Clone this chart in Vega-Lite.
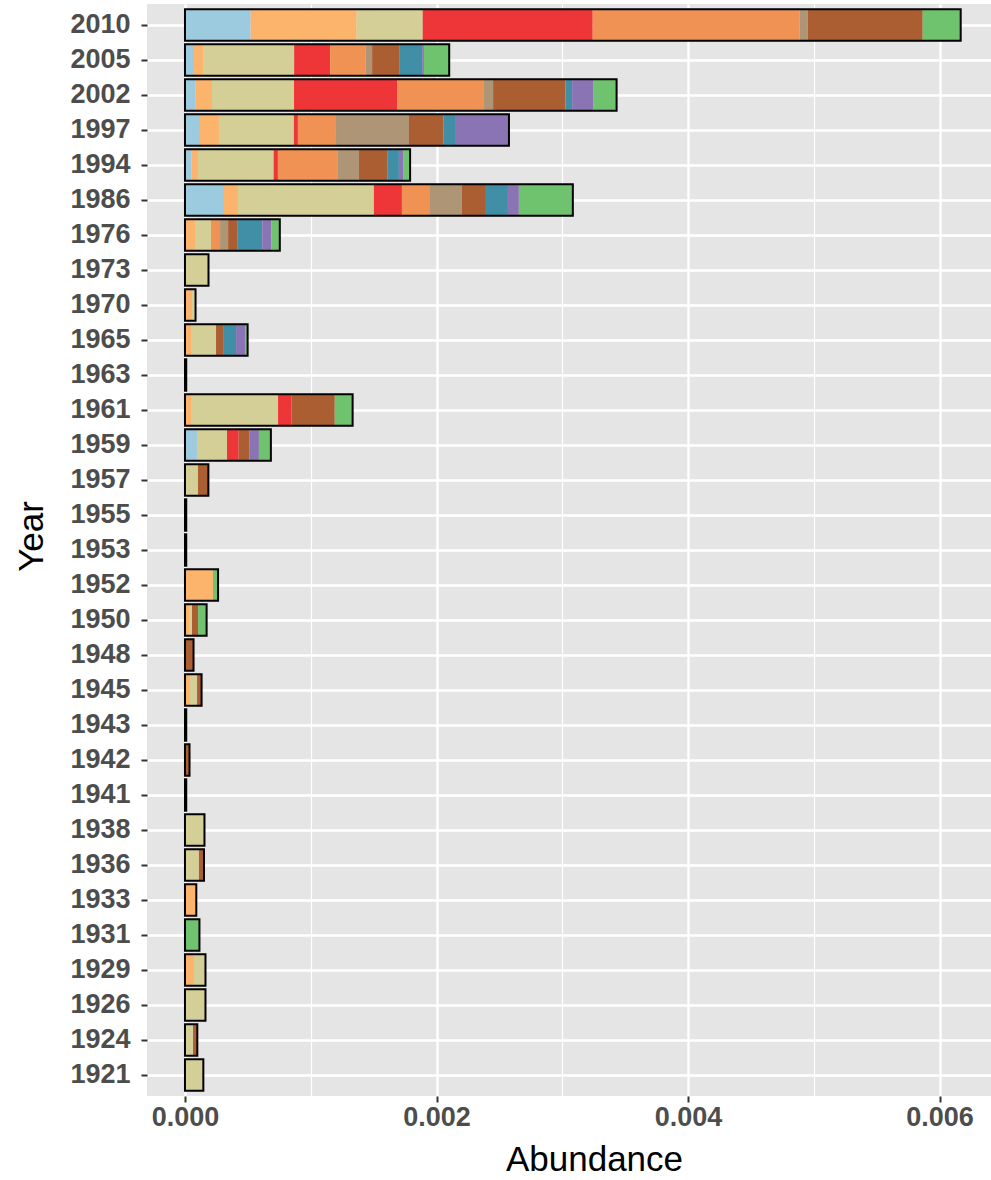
{
  "$schema": "https://vega.github.io/schema/vega-lite/v6.json",
  "autosize": "none",
  "width": 844,
  "height": 1092,
  "padding": {"left": 147, "top": 4, "right": 0, "bottom": 84},
  "background": "white",
  "config": {
    "view": {"fill": "#e5e5e5", "stroke": null},
    "axis": {
      "labelFont": "Liberation Sans",
      "titleFont": "Liberation Sans",
      "labelFontWeight": "bold",
      "labelFontSize": 27,
      "labelColor": "#4d4d4d",
      "tickColor": "#333333",
      "tickWidth": 2,
      "tickSize": 6,
      "domain": false,
      "gridColor": "white",
      "gridWidth": 2.4,
      "titleFontSize": 35,
      "titleFontWeight": "normal",
      "titleColor": "black"
    }
  },
  "data": {
    "values": [
      {"Year": "2010", "Group": "G01", "Abundance": 0.000522},
      {"Year": "2010", "Group": "G02", "Abundance": 0.000843},
      {"Year": "2010", "Group": "G03", "Abundance": 0.000525},
      {"Year": "2010", "Group": "G04", "Abundance": 0.001352},
      {"Year": "2010", "Group": "G05", "Abundance": 0.001646},
      {"Year": "2010", "Group": "G06", "Abundance": 0.000064},
      {"Year": "2010", "Group": "G07", "Abundance": 0.000914},
      {"Year": "2010", "Group": "G10", "Abundance": 0.000302},
      {"Year": "2005", "Group": "G01", "Abundance": 0.000072},
      {"Year": "2005", "Group": "G02", "Abundance": 0.000072},
      {"Year": "2005", "Group": "G03", "Abundance": 0.000724},
      {"Year": "2005", "Group": "G04", "Abundance": 0.000286},
      {"Year": "2005", "Group": "G05", "Abundance": 0.000281},
      {"Year": "2005", "Group": "G06", "Abundance": 0.000053},
      {"Year": "2005", "Group": "G07", "Abundance": 0.000215},
      {"Year": "2005", "Group": "G08", "Abundance": 0.000183},
      {"Year": "2005", "Group": "G09", "Abundance": 0.000014},
      {"Year": "2005", "Group": "G10", "Abundance": 0.000201},
      {"Year": "2002", "Group": "G01", "Abundance": 0.000082},
      {"Year": "2002", "Group": "G02", "Abundance": 0.000133},
      {"Year": "2002", "Group": "G03", "Abundance": 0.000652},
      {"Year": "2002", "Group": "G04", "Abundance": 0.000819},
      {"Year": "2002", "Group": "G05", "Abundance": 0.000692},
      {"Year": "2002", "Group": "G06", "Abundance": 0.000072},
      {"Year": "2002", "Group": "G07", "Abundance": 0.000575},
      {"Year": "2002", "Group": "G08", "Abundance": 0.000053},
      {"Year": "2002", "Group": "G09", "Abundance": 0.000167},
      {"Year": "2002", "Group": "G10", "Abundance": 0.000187},
      {"Year": "1997", "Group": "G01", "Abundance": 0.000119},
      {"Year": "1997", "Group": "G02", "Abundance": 0.000151},
      {"Year": "1997", "Group": "G03", "Abundance": 0.000596},
      {"Year": "1997", "Group": "G04", "Abundance": 0.000032},
      {"Year": "1997", "Group": "G05", "Abundance": 0.000297},
      {"Year": "1997", "Group": "G06", "Abundance": 0.000586},
      {"Year": "1997", "Group": "G07", "Abundance": 0.000273},
      {"Year": "1997", "Group": "G08", "Abundance": 0.000093},
      {"Year": "1997", "Group": "G09", "Abundance": 0.000429},
      {"Year": "1994", "Group": "G01", "Abundance": 0.00005},
      {"Year": "1994", "Group": "G02", "Abundance": 0.000053},
      {"Year": "1994", "Group": "G03", "Abundance": 0.000602},
      {"Year": "1994", "Group": "G04", "Abundance": 0.000034},
      {"Year": "1994", "Group": "G05", "Abundance": 0.000477},
      {"Year": "1994", "Group": "G06", "Abundance": 0.000167},
      {"Year": "1994", "Group": "G07", "Abundance": 0.000225},
      {"Year": "1994", "Group": "G08", "Abundance": 0.000093},
      {"Year": "1994", "Group": "G09", "Abundance": 0.000037},
      {"Year": "1994", "Group": "G10", "Abundance": 0.000052},
      {"Year": "1986", "Group": "G01", "Abundance": 0.00031},
      {"Year": "1986", "Group": "G02", "Abundance": 0.000111},
      {"Year": "1986", "Group": "G03", "Abundance": 0.001081},
      {"Year": "1986", "Group": "G04", "Abundance": 0.000223},
      {"Year": "1986", "Group": "G05", "Abundance": 0.000223},
      {"Year": "1986", "Group": "G06", "Abundance": 0.000254},
      {"Year": "1986", "Group": "G07", "Abundance": 0.000191},
      {"Year": "1986", "Group": "G08", "Abundance": 0.000175},
      {"Year": "1986", "Group": "G09", "Abundance": 0.000087},
      {"Year": "1986", "Group": "G10", "Abundance": 0.000429},
      {"Year": "1976", "Group": "G02", "Abundance": 0.00008},
      {"Year": "1976", "Group": "G03", "Abundance": 0.000127},
      {"Year": "1976", "Group": "G05", "Abundance": 0.000072},
      {"Year": "1976", "Group": "G06", "Abundance": 0.000064},
      {"Year": "1976", "Group": "G07", "Abundance": 0.000072},
      {"Year": "1976", "Group": "G08", "Abundance": 0.000199},
      {"Year": "1976", "Group": "G09", "Abundance": 0.000072},
      {"Year": "1976", "Group": "G10", "Abundance": 0.000068},
      {"Year": "1973", "Group": "G03", "Abundance": 0.000187},
      {"Year": "1970", "Group": "G02", "Abundance": 0.000056},
      {"Year": "1970", "Group": "G03", "Abundance": 0.000028},
      {"Year": "1965", "Group": "G02", "Abundance": 0.000048},
      {"Year": "1965", "Group": "G03", "Abundance": 0.000199},
      {"Year": "1965", "Group": "G07", "Abundance": 0.000056},
      {"Year": "1965", "Group": "G08", "Abundance": 0.000103},
      {"Year": "1965", "Group": "G09", "Abundance": 0.000072},
      {"Year": "1965", "Group": "G10", "Abundance": 0.00002},
      {"Year": "1963", "Group": "G03", "Abundance": 0.00001},
      {"Year": "1961", "Group": "G02", "Abundance": 0.000048},
      {"Year": "1961", "Group": "G03", "Abundance": 0.000692},
      {"Year": "1961", "Group": "G04", "Abundance": 0.000106},
      {"Year": "1961", "Group": "G07", "Abundance": 0.000345},
      {"Year": "1961", "Group": "G10", "Abundance": 0.000142},
      {"Year": "1959", "Group": "G01", "Abundance": 0.000095},
      {"Year": "1959", "Group": "G03", "Abundance": 0.000239},
      {"Year": "1959", "Group": "G04", "Abundance": 0.000093},
      {"Year": "1959", "Group": "G07", "Abundance": 0.000087},
      {"Year": "1959", "Group": "G09", "Abundance": 0.000074},
      {"Year": "1959", "Group": "G10", "Abundance": 0.000095},
      {"Year": "1957", "Group": "G03", "Abundance": 0.000103},
      {"Year": "1957", "Group": "G07", "Abundance": 0.000083},
      {"Year": "1955", "Group": "G03", "Abundance": 0.00001},
      {"Year": "1953", "Group": "G03", "Abundance": 0.00001},
      {"Year": "1952", "Group": "G02", "Abundance": 0.000223},
      {"Year": "1952", "Group": "G10", "Abundance": 0.00004},
      {"Year": "1950", "Group": "G02", "Abundance": 0.000032},
      {"Year": "1950", "Group": "G03", "Abundance": 0.000024},
      {"Year": "1950", "Group": "G07", "Abundance": 0.000048},
      {"Year": "1950", "Group": "G10", "Abundance": 0.000068},
      {"Year": "1948", "Group": "G07", "Abundance": 0.000068},
      {"Year": "1945", "Group": "G02", "Abundance": 0.00004},
      {"Year": "1945", "Group": "G03", "Abundance": 0.000056},
      {"Year": "1945", "Group": "G07", "Abundance": 0.000036},
      {"Year": "1943", "Group": "G03", "Abundance": 0.00001},
      {"Year": "1942", "Group": "G07", "Abundance": 0.000036},
      {"Year": "1941", "Group": "G03", "Abundance": 0.00001},
      {"Year": "1938", "Group": "G03", "Abundance": 0.000155},
      {"Year": "1936", "Group": "G03", "Abundance": 0.000111},
      {"Year": "1936", "Group": "G07", "Abundance": 0.00004},
      {"Year": "1933", "Group": "G02", "Abundance": 0.00009},
      {"Year": "1931", "Group": "G10", "Abundance": 0.000115},
      {"Year": "1929", "Group": "G02", "Abundance": 0.000072},
      {"Year": "1929", "Group": "G03", "Abundance": 0.000091},
      {"Year": "1926", "Group": "G03", "Abundance": 0.000163},
      {"Year": "1924", "Group": "G03", "Abundance": 0.000064},
      {"Year": "1924", "Group": "G07", "Abundance": 0.000034},
      {"Year": "1921", "Group": "G03", "Abundance": 0.000146}
    ]
  },
  "layer": [
    {
      "mark": {"type": "bar", "strokeWidth": 0},
      "encoding": {
        "y": {
          "field": "Year", "type": "nominal", "sort": "descending",
          "scale": {"paddingInner": 0.1, "paddingOuter": 0.15},
          "axis": {
            "grid": true, "bandPosition": 0.5, "labelPadding": 11,
            "title": "Year", "titleAngle": -90, "titleX": -105, "titleY": 532,
            "titleAlign": "center", "titleBaseline": "alphabetic"
          }
        },
        "x": {
          "field": "Abundance", "type": "quantitative", "stack": "zero",
          "scale": {"domain": [-0.000302, 0.006409], "nice": false, "zero": false},
          "axis": {
            "values": [0, 0.002, 0.004, 0.006], "format": ".3f", "grid": true,
            "labelFlush": false, "labelOverlap": false, "labelPadding": 2, "labelDx": 6,
            "title": "Abundance", "titleX": 447, "titleY": 74,
            "titleAlign": "center", "titleBaseline": "alphabetic"
          }
        },
        "color": {
          "field": "Group", "type": "nominal", "legend": null,
          "scale": {
            "domain": ["G01", "G02", "G03", "G04", "G05", "G06", "G07", "G08", "G09", "G10"],
            "range": ["#9ccbdf", "#fcb36b", "#d4cf96", "#ee3537", "#f09253", "#ae9575", "#ab5e32", "#418ea7", "#8b74b4", "#6fc36e"]
          }
        },
        "order": {"field": "Group", "sort": "ascending"}
      }
    },
    {
      "mark": {"type": "bar", "fill": null, "fillOpacity": 0, "stroke": "black", "strokeWidth": 2},
      "encoding": {
        "y": {
          "field": "Year", "type": "nominal", "sort": "descending",
          "scale": {"paddingInner": 0.1, "paddingOuter": 0.15}
        },
        "x": {
          "aggregate": "sum", "field": "Abundance", "type": "quantitative",
          "scale": {"domain": [-0.000302, 0.006409], "nice": false, "zero": false},
          "axis": {
            "orient": "top", "values": [0.001, 0.003, 0.005], "grid": true, "gridWidth": 1.2,
            "labels": false, "ticks": false, "domain": false, "title": null
          }
        }
      }
    }
  ],
  "resolve": {"axis": {"x": "independent"}}
}
